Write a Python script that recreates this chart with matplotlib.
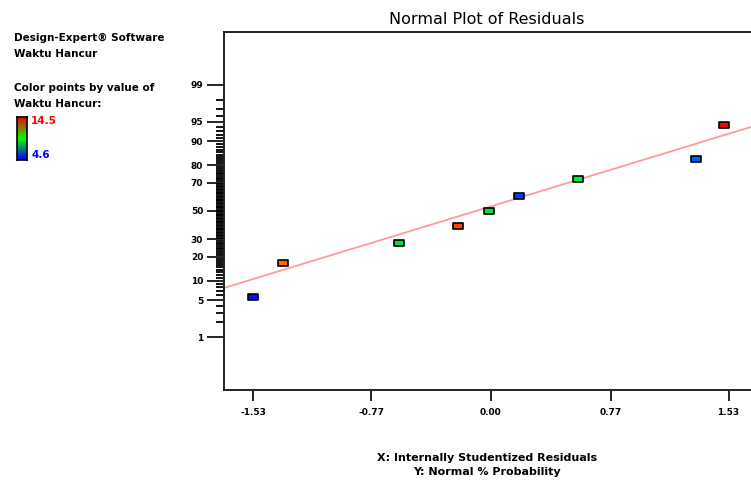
import numpy as np
import matplotlib
matplotlib.use('Agg')
import matplotlib.pyplot as plt
import matplotlib.colors as mcolors
from matplotlib.path import Path
from statistics import NormalDist

# residuals (x) and normal % probability (y)
residuals = [-1.53, -1.34, -0.59, -0.21, -0.01, 0.18, 0.56, 1.32, 1.50]
probability = [5.6, 16.7, 27.8, 38.9, 50.0, 61.1, 72.2, 83.3, 94.4]
point_colors = ['#0010ff', '#ff6600', '#00e040', '#ff4000', '#00e040',
                '#0040ff', '#00f040', '#0060ff', '#ff0000']

# reference line, end points
fit_x = [-1.72, 1.72]
fit_pct = [7.8, 94.4]

y_major = [1, 5, 10, 20, 30, 50, 70, 80, 90, 95, 99]
x_ticks = [-1.53, -0.77, 0.00, 0.77, 1.53]
x_labels = ['-1.53', '-0.77', '0.00', '0.77', '1.53']

cbar_high = '14.5'
cbar_low = '4.6'


def z(p):
    return NormalDist().inv_cdf(p / 100.0)


W, H = 751, 482
fig = plt.figure(figsize=(W / 100, H / 100), dpi=100)
ax = fig.add_axes([224 / W, 1 - 390 / H, 534 / W, 358 / H])

# rectangle marker, a bit wider than tall
rect = Path([(-1, -0.65), (1, -0.65), (1, 0.65), (-1, 0.65), (-1, -0.65)],
            [Path.MOVETO, Path.LINETO, Path.LINETO, Path.LINETO, Path.CLOSEPOLY])

ax.plot(fit_x, [z(p) for p in fit_pct], color='#ff9a9a', lw=1.3, zorder=1)
for x, p, c in zip(residuals, probability, point_colors):
    ax.plot(x, z(p), marker=rect, markersize=7.5, markerfacecolor=c,
            markeredgecolor='black', markeredgewidth=1.2, ls='none', zorder=3)

ax.set_xlim(-1.72, 1.72)
ax.set_ylim(-3.30, 3.30)

ax.set_yticks([z(p) for p in y_major])
ax.set_yticklabels([str(p) for p in y_major])
ax.set_yticks([z(p) for p in range(1, 100) if p not in y_major], minor=True)
ax.set_xticks(x_ticks)
ax.set_xticklabels(x_labels)

for lab in ax.get_xticklabels() + ax.get_yticklabels():
    lab.set_fontsize(6.5)
    lab.set_fontweight('bold')

ax.tick_params(axis='y', which='major', length=12, width=1.2, pad=3)
ax.tick_params(axis='y', which='minor', length=6, width=1.3)
ax.tick_params(axis='x', which='major', length=8, width=1.2, pad=5)
for s in ax.spines.values():
    s.set_linewidth(1.4)
    s.set_color('#222222')

fig.text(487 / W, 1 - 20 / H, 'Normal Plot of Residuals', ha='center', va='center',
         fontsize=11.5)
fig.text(487 / W, 1 - 458 / H, 'X: Internally Studentized Residuals', ha='center',
         va='center', fontsize=8, fontweight='bold')
fig.text(487 / W, 1 - 472 / H, 'Y: Normal % Probability', ha='center',
         va='center', fontsize=8, fontweight='bold')

left_lines = [('Design-Expert® Software', 38), ('Waktu Hancur', 54),
              ('Color points by value of', 88), ('Waktu Hancur:', 104)]
for txt, yy in left_lines:
    fig.text(14 / W, 1 - yy / H, txt, ha='left', va='center', fontsize=7.5,
             fontweight='bold')

# small colour legend
cax = fig.add_axes([17 / W, 1 - 160 / H, 10 / W, 43 / H])
cmap = mcolors.LinearSegmentedColormap.from_list('rgb', ['#0000ff', '#00ff00', '#ff0000'])
cax.imshow(np.linspace(0, 1, 100).reshape(-1, 1), cmap=cmap, aspect='auto', origin='lower')
cax.set_xticks([])
cax.set_yticks([])
for s in cax.spines.values():
    s.set_linewidth(1.2)
fig.text(31 / W, 1 - 121 / H, cbar_high, color='red', fontsize=7.5, fontweight='bold',
         ha='left', va='center')
fig.text(31 / W, 1 - 155 / H, cbar_low, color='blue', fontsize=7.5, fontweight='bold',
         ha='left', va='center')

fig.savefig('out.png', dpi=100)
